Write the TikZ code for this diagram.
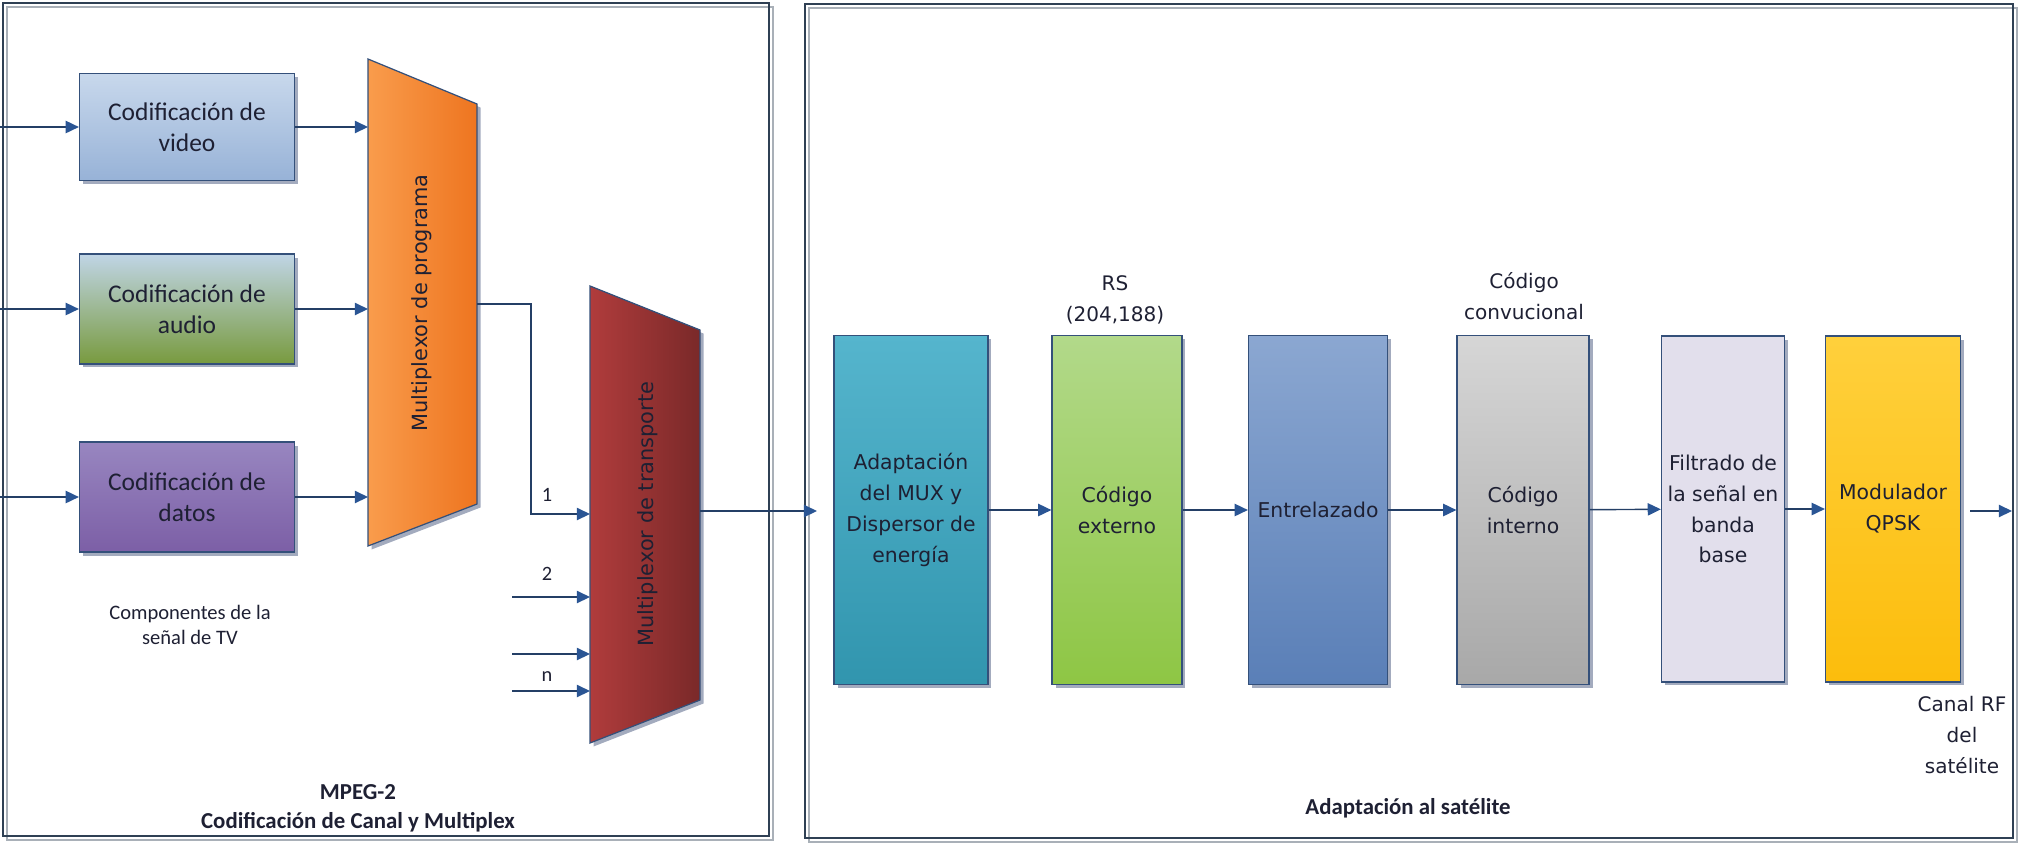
\documentclass[tikz,border=0pt]{standalone}
\usepackage{fontspec}
\setmainfont{Carlito}
\newfontfamily\dejavu{DejaVu Sans}
\usetikzlibrary{arrows.meta,shadows,positioning}

\definecolor{lineblue}{HTML}{243F66}
\definecolor{tipblue}{HTML}{2A5594}
\definecolor{boxline}{HTML}{34507A}
\definecolor{frameline}{HTML}{2F4054}
\definecolor{frameshadow}{HTML}{A9B0B8}
\definecolor{shadowblue}{HTML}{8C96AE}
\definecolor{inktext}{HTML}{1E2033}
\definecolor{vidtop}{HTML}{C8D8EC}
\definecolor{vidbot}{HTML}{97B2D7}
\definecolor{audtop}{HTML}{C0D5E6}
\definecolor{audbot}{HTML}{789A3E}
\definecolor{dattop}{HTML}{9886C0}
\definecolor{datbot}{HTML}{7C5FA6}
\definecolor{mpleft}{HTML}{F99C4C}
\definecolor{mpright}{HTML}{EE7520}
\definecolor{mtleft}{HTML}{B03C3C}
\definecolor{mtright}{HTML}{7A2929}
\definecolor{adaptop}{HTML}{55B5CD}
\definecolor{adapbot}{HTML}{3195AE}
\definecolor{exttop}{HTML}{B2D98A}
\definecolor{extbot}{HTML}{8EC644}
\definecolor{entrtop}{HTML}{8BA7D1}
\definecolor{entrbot}{HTML}{5A7FB7}
\definecolor{inttop}{HTML}{D6D6D6}
\definecolor{intbot}{HTML}{A8A8A8}
\definecolor{filtfill}{HTML}{E2DFEC}
\definecolor{modtop}{HTML}{FFD03C}
\definecolor{modbot}{HTML}{FCBD0C}

\tikzset{
  boxshadow/.style={drop shadow={shadow xshift=0.07cm, shadow yshift=-0.07cm, fill=shadowblue, opacity=0.8}},
  lbox/.style={draw=boxline, line width=0.7pt, minimum width=4.3cm, minimum height=2.15cm,
    inner sep=1pt, align=center, text=inktext, boxshadow,
    font=\fontsize{14.5}{17.6}\selectfont},
  rbox/.style={draw=boxline, line width=0.7pt, minimum height=6.98cm, inner sep=1pt,
    align=center, text=inktext, boxshadow,
    font=\dejavu\fontsize{11.6}{17.6}\selectfont},
  dvlabel/.style={align=center, text=inktext, inner sep=0pt,
    font=\dejavu\fontsize{11.4}{17.4}\selectfont},
  muxlabel/.style={rotate=90, inner sep=0pt, text=inktext,
    font=\dejavu\fontsize{11.9}{14}\selectfont},
  small/.style={inner sep=0pt, text=inktext, font=\fontsize{11.6}{14}\selectfont},
  caption/.style={align=center, inner sep=0pt, text=inktext, font=\bfseries\fontsize{13}{16.4}\selectfont},
  flow/.style={draw=lineblue, line width=0.8pt, -{Triangle[length=7.5pt, width=7pt, color=tipblue]}},
  wire/.style={draw=lineblue, line width=0.8pt},
}

\begin{document}
\begin{tikzpicture}[x=0.02cm, y=-0.02cm]
  \useasboundingbox (0,0) rectangle (2019,843);

  % marcos
  \draw[frameshadow, line width=0.8pt] (7,7) rectangle (773,840);
  \draw[frameline, line width=0.8pt] (3,3) rectangle (769,836);
  \draw[frameshadow, line width=0.8pt] (809,8) rectangle (2017,842);
  \draw[frameline, line width=0.8pt] (805,4) rectangle (2013,838);
  \coordinate (fl) at (0,0);

  % componentes de la senal
  \node[lbox, top color=vidtop, bottom color=vidbot] (vid) at (187,127) {Codificación de\\video};
  \node[lbox, top color=audtop, bottom color=audbot, minimum height=2.2cm] (aud) at (187,309) {Codificación de\\audio};
  \node[lbox, top color=dattop, bottom color=datbot, minimum height=2.2cm] (dat) at (187,497) {Codificación de\\datos};
  \node[small, align=center, font=\fontsize{11.7}{13.8}\selectfont] (comp) at (190,625) {Componentes de la\\señal de TV};

  % multiplexor de programa
  \coordinate (mpa) at (368,59);
  \coordinate (mpb) at (477,104);
  \coordinate (mpc) at (477,504);
  \coordinate (mpd) at (368,546);
  \path[draw=boxline, line width=0.7pt, left color=mpleft, right color=mpright, boxshadow]
    (mpa) -- (mpb) -- (mpc) -- (mpd) -- cycle;
  \node[muxlabel] (mplab) at (422,303) {Multiplexor de programa};

  % multiplexor de transporte
  \coordinate (mta) at (590,286);
  \coordinate (mtb) at (700,330);
  \coordinate (mtc) at (700,700);
  \coordinate (mtd) at (590,743);
  \path[draw=boxline, line width=0.7pt, left color=mtleft, right color=mtright, boxshadow]
    (mta) -- (mtb) -- (mtc) -- (mtd) -- cycle;
  \node[muxlabel] (mtlab) at (648,514) {Multiplexor de transporte};

  \draw[flow] (fl |- vid.west) -- (vid.west);
  \draw[flow] (fl |- aud.west) -- (aud.west);
  \draw[flow] (fl |- dat.west) -- (dat.west);
  \draw[flow] (vid.east) -- (vid.east -| mpa);
  \draw[flow] (aud.east) -- (aud.east -| mpa);
  \draw[flow] (dat.east) -- (dat.east -| mpa);

  \coordinate (mpout) at (477,304);
  \coordinate (mtin1) at (590,514);
  \coordinate (mtin2) at (590,597);
  \coordinate (mtin3) at (590,654);
  \coordinate (mtinn) at (590,691);
  \draw[flow] (mpout) -- ++(54,0) |- (mtin1);
  \draw[flow] ([xshift=-1.56cm]mtin2) -- (mtin2);
  \draw[flow] ([xshift=-1.56cm]mtin3) -- (mtin3);
  \draw[flow] ([xshift=-1.56cm]mtinn) -- (mtinn);
  \node[small] (n1) at (547,495) {1};
  \node[small] (n2) at (547,574) {2};
  \node[small] (nn) at (547,677) {n};

  \node[caption] (mpeg) at (358,808) {MPEG-2\\Codificación de Canal y Multiplex};

  % adaptacion al satelite
  \coordinate (mtout) at (700,511);
  \coordinate (satin) at (817,511);
  \draw[flow] (mtout) -- (satin);

  \node[rbox, minimum width=3.08cm, top color=adaptop, bottom color=adapbot] (adap) at (911,510) {Adaptación\\del MUX y\\Dispersor de\\energía};
  \node[rbox, minimum width=2.6cm, top color=exttop, bottom color=extbot] (ext) at (1117,510) {Código\\externo};
  \node[rbox, minimum width=2.78cm, top color=entrtop, bottom color=entrbot] (entr) at (1318,510) {Entrelazado};
  \node[rbox, minimum width=2.64cm, top color=inttop, bottom color=intbot] (intn) at (1523,510) {Código\\interno};
  \node[rbox, minimum width=2.46cm, minimum height=6.92cm, fill=filtfill] (filt) at (1723,509) {Filtrado de\\la señal en\\banda\\base};
  \node[rbox, minimum width=2.7cm, minimum height=6.92cm, top color=modtop, bottom color=modbot] (mod) at (1893,509) {Modulador\\QPSK};

  \draw[flow] (adap) -- (ext);
  \draw[flow] (ext) -- (entr);
  \draw[flow] (entr) -- (intn);
  \draw[flow] (intn) -- (filt);
  \draw[flow] (filt) -- (mod);
  \coordinate (rfout) at (2012,511);
  \draw[flow] (mod.east |- rfout) ++(9,0) -- (rfout);

  \node[dvlabel] (rs) at (1115,300) {RS\\(204,188)};
  \node[dvlabel] (conv) at (1524,296) {Código\\convucional};
  \node[dvlabel] (rf) at (1962,735) {Canal RF\\del\\satélite};
  \node[caption] (sat) at (1408,808) {Adaptación al satélite};
\end{tikzpicture}
\end{document}
